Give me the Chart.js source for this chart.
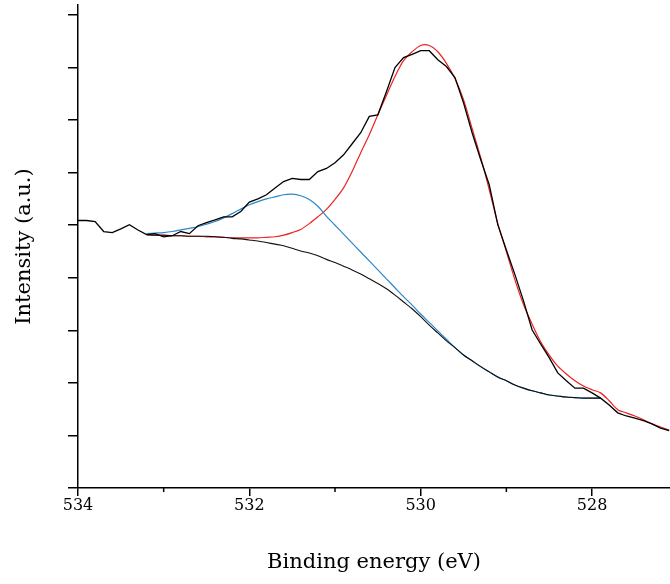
<!DOCTYPE html>
<html>
<head>
<meta charset="utf-8">
<script src="https://cdn.jsdelivr.net/npm/chart.js@4.4.1/dist/chart.umd.min.js"></script>
<style>
  html, body { margin: 0; padding: 0; background: #fff; }
  #wrap { width: 670px; height: 584px; }
</style>
</head>
<body>
<div id="wrap"><canvas id="xps" width="670" height="584"></canvas></div>
<script>
// binding energy grid (eV), 0.1 eV steps
var energy = [534.0, 533.9, 533.8, 533.7, 533.6, 533.5, 533.4, 533.3, 533.2, 533.1,
  533.0, 532.9, 532.8, 532.7, 532.6, 532.5, 532.4, 532.3, 532.2, 532.1,
  532.0, 531.9, 531.8, 531.7, 531.6, 531.5, 531.4, 531.3, 531.2, 531.1,
  531.0, 530.9, 530.8, 530.7, 530.6, 530.5, 530.4, 530.3, 530.2, 530.1,
  530.0, 529.9, 529.8, 529.7, 529.6, 529.5, 529.4, 529.3, 529.2, 529.1,
  529.0, 528.9, 528.8, 528.7, 528.6, 528.5, 528.4, 528.3, 528.2, 528.1,
  528.0, 527.9, 527.8, 527.7, 527.6, 527.5, 527.4, 527.3, 527.2, 527.1];

// measured spectrum
var measured = [5.09, 5.09, 5.07, 4.88, 4.86, 4.93, 5.01, 4.91, 4.82, 4.84,
  4.78, 4.80, 4.88, 4.84, 4.99, 5.05, 5.10, 5.16, 5.16, 5.26,
  5.44, 5.50, 5.58, 5.71, 5.83, 5.89, 5.87, 5.87, 6.02, 6.08,
  6.19, 6.34, 6.55, 6.76, 7.07, 7.10, 7.54, 8.00, 8.19, 8.25,
  8.32, 8.32, 8.15, 8.02, 7.81, 7.33, 6.76, 6.25, 5.77, 5.01,
  4.53, 4.06, 3.56, 3.01, 2.74, 2.48, 2.19, 2.04, 1.90, 1.90,
  1.81, 1.71, 1.58, 1.43, 1.37, 1.33, 1.28, 1.22, 1.14, 1.09];

// fit curves start at 533.2 eV
var fitEnergy = energy.slice(8);

// main lattice-oxygen peak (red), 533.2 .. 527.1
var peakMain = [4.82, 4.81, 4.81, 4.80, 4.80, 4.79, 4.79, 4.78, 4.78, 4.77,
  4.76, 4.76, 4.76, 4.76, 4.77, 4.78, 4.81, 4.86, 4.92, 5.03,
  5.16, 5.30, 5.49, 5.71, 6.02, 6.38, 6.72, 7.10, 7.47, 7.83,
  8.13, 8.30, 8.42, 8.42, 8.30, 8.08, 7.79, 7.39, 6.84, 6.29,
  5.68, 5.03, 4.50, 3.96, 3.49, 3.12, 2.78, 2.53, 2.32, 2.17,
  2.04, 1.94, 1.87, 1.81, 1.66, 1.49, 1.43, 1.37, 1.30, 1.22,
  1.16, 1.10];

// second component (blue), 533.2 .. 527.9
var peakSide = [4.84, 4.85, 4.86, 4.88, 4.91, 4.94, 4.97, 5.02, 5.07, 5.14,
  5.22, 5.31, 5.39, 5.45, 5.50, 5.54, 5.58, 5.59, 5.56, 5.49,
  5.36, 5.17, 5.00, 4.83, 4.66, 4.49, 4.32, 4.15, 3.98, 3.81,
  3.64, 3.48, 3.31, 3.15, 2.99, 2.83, 2.67, 2.53, 2.42, 2.31,
  2.21, 2.11, 2.04, 1.96, 1.90, 1.85, 1.81, 1.77, 1.75, 1.73,
  1.72, 1.71, 1.71, 1.71];

// Shirley background, 533.2 .. 527.9
var background = [4.82, 4.81, 4.81, 4.80, 4.80, 4.79, 4.79, 4.79, 4.78, 4.77,
  4.75, 4.74, 4.72, 4.70, 4.67, 4.64, 4.61, 4.56, 4.51, 4.47,
  4.42, 4.35, 4.29, 4.22, 4.15, 4.07, 3.98, 3.89, 3.79, 3.67,
  3.54, 3.41, 3.26, 3.10, 2.95, 2.80, 2.67, 2.53, 2.42, 2.31,
  2.21, 2.11, 2.04, 1.96, 1.90, 1.85, 1.81, 1.77, 1.75, 1.73,
  1.72, 1.71, 1.71, 1.71];

var xTicksMajor = [534, 532, 530, 528];

function pts(xs, ys) {
  return ys.map(function (y, i) { return { x: xs[i], y: y }; });
}

var serif = "'DejaVu Serif', 'Liberation Serif', serif";

// short minor ticks on the energy axis (odd values)
var minorTicks = {
  id: 'minorTicks',
  afterDraw: function (chart) {
    var sx = chart.scales.x;
    var c = chart.ctx;
    c.save();
    c.strokeStyle = '#000';
    c.lineWidth = 1.5;
    sx.ticks.forEach(function (t) {
      if (xTicksMajor.indexOf(Math.round(t.value)) === -1) {
        var px = sx.getPixelForValue(t.value);
        c.beginPath();
        c.moveTo(px, sx.top);
        c.lineTo(px, sx.top + 4);
        c.stroke();
      }
    });
    c.restore();
  }
};

var ctx = document.getElementById('xps');
var xpsChart = new Chart(ctx, {
  type: 'line',
  data: {
    datasets: [
      { data: pts(energy, measured), borderColor: '#000', borderWidth: 1.3, pointRadius: 0, tension: 0 },
      { data: pts(fitEnergy, background), borderColor: '#111', borderWidth: 1.1, pointRadius: 0, tension: 0.3 },
      { data: pts(fitEnergy, peakSide), borderColor: '#2b87c6', borderWidth: 1.2, pointRadius: 0, tension: 0.3 },
      { data: pts(fitEnergy, peakMain), borderColor: '#ee2222', borderWidth: 1.2, pointRadius: 0, tension: 0.3 }
    ]
  },
  plugins: [minorTicks],
  options: {
    responsive: false,
    animation: false,
    layout: { padding: { top: 5, right: 0, left: 0, bottom: 0 } },
    plugins: { legend: { display: false }, tooltip: { enabled: false } },
    scales: {
      x: {
        type: 'linear',
        reverse: true,
        min: 527.09,
        max: 534,
        afterFit: function (s) { s.height = 96; },
        border: { display: true, color: '#000', width: 1.5 },
        grid: {
          drawOnChartArea: false,
          tickLength: 8,
          lineWidth: 1.5,
          tickColor: function (c) {
            return xTicksMajor.indexOf(Math.round(c.tick.value)) !== -1 ? '#000' : 'rgba(0,0,0,0)';
          }
        },
        ticks: {
          stepSize: 1,
          includeBounds: false,
          maxRotation: 0,
          autoSkip: false,
          padding: 0,
          color: '#000',
          font: { family: serif, size: 16 },
          callback: function (v) {
            return xTicksMajor.indexOf(Math.round(v)) !== -1 ? String(Math.round(v)) : '';
          }
        },
        title: {
          display: true,
          text: 'Binding energy (eV)',
          color: '#000',
          font: { family: serif, size: 21 },
          padding: { top: 0, bottom: 9 }
        }
      },
      y: {
        min: 0,
        max: 9.19,
        afterFit: function (s) { s.width = 78; },
        border: { display: true, color: '#000', width: 1.5 },
        grid: { drawOnChartArea: false, tickLength: 10, lineWidth: 1.5, color: '#000' },
        ticks: { stepSize: 1, includeBounds: false, display: false },
        title: {
          display: true,
          text: 'Intensity (a.u.)',
          color: '#000',
          font: { family: serif, size: 21 },
          padding: { top: 12, bottom: 0 }
        }
      }
    }
  }
});
</script>
</body>
</html>
